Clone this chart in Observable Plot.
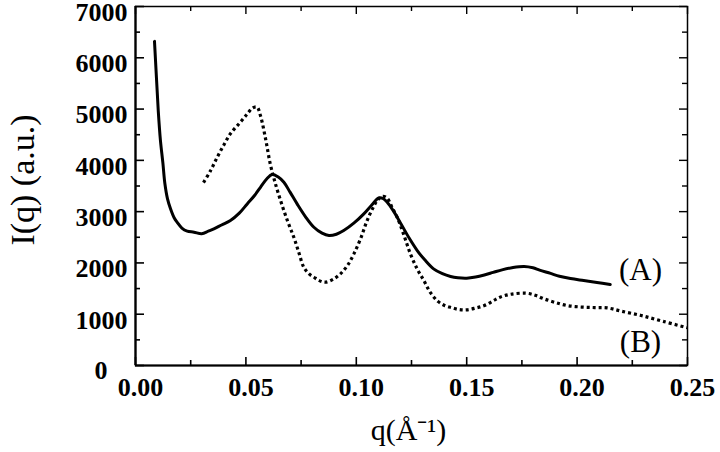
<!DOCTYPE html>
<html>
<head>
<meta charset="utf-8">
<script src="https://cdn.jsdelivr.net/npm/d3@7"></script>
<script src="https://cdn.jsdelivr.net/npm/@observablehq/plot@0.6"></script>
<style>
  html, body { margin: 0; padding: 0; background: #fff; }
  svg { display: block; }
  svg text { font-family: 'Liberation Serif', 'Times New Roman', Times, serif !important; }
</style>
</head>
<body>
<div id="chart"></div>
<script>
// ---- data ----
const qA = [0.0086, 0.0095, 0.0103, 0.0113, 0.0124, 0.0133, 0.0145, 0.0159, 0.0175, 0.0189, 0.0210, 0.0234, 0.0265, 0.0300, 0.0330, 0.0355, 0.0390, 0.0430, 0.0470, 0.0506, 0.0540, 0.0566, 0.0595, 0.0619, 0.0645, 0.0672, 0.0700, 0.0732, 0.0770, 0.0808, 0.0845, 0.0876, 0.0910, 0.0943, 0.0990, 0.1034, 0.1070, 0.1102, 0.1120, 0.1140, 0.1170, 0.1200, 0.1240, 0.1276, 0.1310, 0.1350, 0.1390, 0.1427, 0.1460, 0.1500, 0.1540, 0.1580, 0.1620, 0.1660, 0.1710, 0.1760, 0.1800, 0.1830, 0.1880, 0.1920, 0.1970, 0.2030, 0.2090, 0.2150];
const iA = [6320, 5600, 4970, 4385, 3950, 3550, 3250, 3050, 2880, 2790, 2680, 2620, 2600, 2570, 2620, 2664, 2740, 2826, 2970, 3151, 3320, 3475, 3640, 3723, 3680, 3573, 3380, 3151, 2900, 2696, 2580, 2534, 2560, 2631, 2780, 2957, 3130, 3268, 3260, 3183, 3000, 2780, 2480, 2241, 2060, 1884, 1790, 1735, 1710, 1702, 1725, 1765, 1815, 1865, 1910, 1930, 1905, 1860, 1795, 1740, 1695, 1657, 1620, 1579];

const qB = [0.0308, 0.0340, 0.0370, 0.0400, 0.0430, 0.0470, 0.0506, 0.0530, 0.0550, 0.0566, 0.0590, 0.0610, 0.0630, 0.0657, 0.0690, 0.0717, 0.0740, 0.0762, 0.0785, 0.0808, 0.0835, 0.0860, 0.0895, 0.0928, 0.0960, 0.0989, 0.1020, 0.1049, 0.1075, 0.1095, 0.1120, 0.1140, 0.1160, 0.1185, 0.1215, 0.1245, 0.1276, 0.1306, 0.1336, 0.1370, 0.1400, 0.1430, 0.1465, 0.1500, 0.1540, 0.1580, 0.1620, 0.1650, 0.1700, 0.1770, 0.1810, 0.1850, 0.1900, 0.1955, 0.2020, 0.2080, 0.2136, 0.2200, 0.2290, 0.2390, 0.2500];
const iB = [3567, 3800, 4060, 4300, 4520, 4720, 4905, 5020, 5040, 4872, 4400, 3936, 3600, 3216, 2800, 2501, 2200, 1916, 1790, 1721, 1650, 1624, 1680, 1787, 1950, 2177, 2480, 2826, 3070, 3216, 3300, 3260, 3100, 2891, 2550, 2177, 1880, 1657, 1420, 1250, 1170, 1130, 1090, 1085, 1120, 1169, 1260, 1331, 1390, 1409, 1370, 1300, 1230, 1169, 1140, 1130, 1124, 1060, 975, 860, 735];

const xMajor = [0, 0.05, 0.10, 0.15, 0.20, 0.25];
const xTickLabels = ["0.00", "0.05", "0.10", "0.15", "0.20", "0.25"];
const xMinor = [0.025, 0.075, 0.125, 0.175, 0.225];
const yMajor = [0, 1000, 2000, 3000, 4000, 5000, 6000, 7000];
const yTickLabels = ["0", "1000", "2000", "3000", "4000", "5000", "6000", "7000"];
const yMinor = [500, 1500, 2500, 3500, 4500, 5500, 6500];

const seriesLabels = ["(A)", "(B)"];
const seriesLabelQ = [0.2287, 0.2287];
const seriesLabelI = [1870, 450];

const xTitle = "q(Å⁻¹)";
const yTitle = "I(q) (a.u.)";

// ---- build tables ----
const dataA = qA.map((q, i) => ({q, I: iA[i]}));
const dataB = qB.map((q, i) => ({q, I: iB[i]}));
const labels = seriesLabels.map((t, i) => ({t, q: seriesLabelQ[i], I: seriesLabelI[i]}));

const W = 720, H = 452;
const mL = 135, mR = 33, mT = 6, mB = 87;
const xDom = [0, 0.25], yDom = [0, 7000];
const pxX = (xDom[1] - xDom[0]) / (W - mL - mR); // data units per px
const pxY = (yDom[1] - yDom[0]) / (H - mT - mB);

const font = "'Liberation Serif', 'Times New Roman', Times, serif";

const chart = Plot.plot({
  width: W,
  height: H,
  marginLeft: mL,
  marginRight: mR,
  marginTop: mT,
  marginBottom: mB,
  style: {fontFamily: font, background: "#fff", color: "#000", overflow: "visible"},
  x: {domain: xDom, axis: null},
  y: {domain: yDom, axis: null},
  marks: [
    // ticks (inward) on all four sides
    Plot.ruleX(xMajor, {x: d => d, y1: yDom[0], y2: yDom[0] + 8 * pxY, strokeWidth: 1.6, stroke: "#000"}),
    Plot.ruleX(xMinor, {x: d => d, y1: yDom[0], y2: yDom[0] + 5 * pxY, strokeWidth: 1.6, stroke: "#000"}),
    Plot.ruleX(xMajor, {x: d => d, y1: yDom[1] - 8 * pxY, y2: yDom[1], strokeWidth: 1.4, stroke: "#000"}),
    Plot.ruleX(xMinor, {x: d => d, y1: yDom[1] - 5 * pxY, y2: yDom[1], strokeWidth: 1.4, stroke: "#000"}),
    Plot.ruleY(yMajor, {y: d => d, x1: xDom[0], x2: xDom[0] + 9 * pxX, strokeWidth: 1.6, stroke: "#000"}),
    Plot.ruleY(yMinor, {y: d => d, x1: xDom[0], x2: xDom[0] + 5 * pxX, strokeWidth: 1.6, stroke: "#000"}),
    Plot.ruleY(yMajor, {y: d => d, x1: xDom[1] - 8 * pxX, x2: xDom[1], strokeWidth: 1.4, stroke: "#000"}),
    Plot.ruleY(yMinor, {y: d => d, x1: xDom[1] - 5 * pxX, x2: xDom[1], strokeWidth: 1.4, stroke: "#000"}),
    // frame
    Plot.frame({stroke: "#000", strokeWidth: 1.5}),
    Plot.ruleX([xDom[0]], {stroke: "#000", strokeWidth: 2.2}),
    Plot.ruleY([yDom[0]], {stroke: "#000", strokeWidth: 2.2}),
    // curves
    Plot.line(dataA, {x: "q", y: "I", stroke: "#000", strokeWidth: 3, curve: "catmull-rom"}),
    Plot.line(dataB, {x: "q", y: "I", stroke: "#000", strokeWidth: 3.2, strokeDasharray: "3,3",
      strokeLinecap: "butt", strokeLinejoin: "miter", curve: "catmull-rom"}),
    // tick labels
    Plot.text(xMajor, {x: d => d, y: yDom[0], text: (d, i) => xTickLabels[i], dy: 22, dx: 5,
      fontFamily: font, fontSize: 26, fontWeight: "bold", fill: "#000", textAnchor: "middle", lineAnchor: "middle"}),
    Plot.text(yMajor.slice(1), {x: xDom[0], y: d => d, text: (d, i) => yTickLabels[i + 1], dx: -8, dy: 6,
      fontFamily: font, fontSize: 26, fontWeight: "bold", fill: "#000", textAnchor: "end", lineAnchor: "middle"}),
    Plot.text(yMajor.slice(0, 1), {x: xDom[0], y: d => d, text: (d, i) => yTickLabels[i], dx: -28, dy: 5,
      fontFamily: font, fontSize: 26, fontWeight: "bold", fill: "#000", textAnchor: "end", lineAnchor: "middle"}),
    // series labels
    Plot.text(labels, {x: "q", y: "I", text: "t", fontFamily: font, fontSize: 31, fill: "#000", textAnchor: "middle", lineAnchor: "middle"}),
    // axis titles
    Plot.text([xTitle], {x: (xDom[0] + xDom[1]) / 2, y: yDom[0], dy: 65, dx: -3, text: d => d, fontFamily: font, fontSize: 30, fill: "#000", textAnchor: "middle", lineAnchor: "middle"}),
    Plot.text([yTitle], {x: () => xDom[0], y: () => (yDom[0] + yDom[1]) / 2, dx: -112, dy: -6, rotate: -90, text: d => d, fontFamily: font, fontSize: 34, fill: "#000", textAnchor: "middle", lineAnchor: "middle"})
  ]
});
document.getElementById("chart").appendChild(chart);
</script>
</body>
</html>
